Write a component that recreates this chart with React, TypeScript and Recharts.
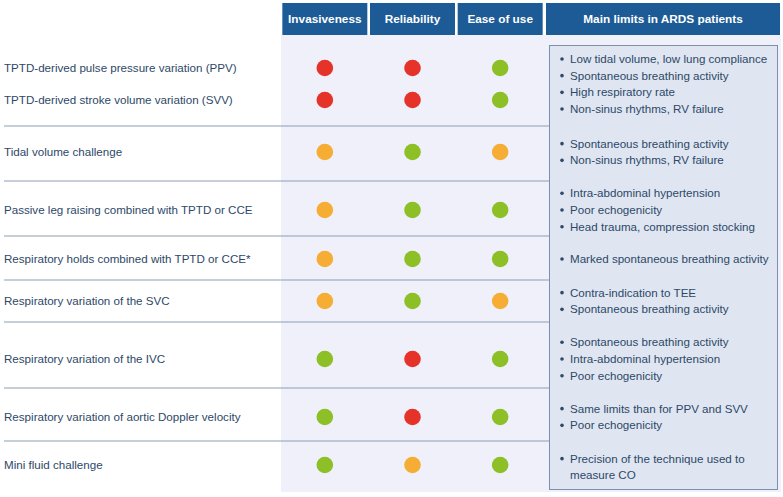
import React from 'react';
import { ScatterChart, Scatter, XAxis, YAxis, Customized } from 'recharts';

// rows of the table
const methods = [
  'TPTD-derived pulse pressure variation (PPV)',
  'TPTD-derived stroke volume variation (SVV)',
  'Tidal volume challenge',
  'Passive leg raising combined with TPTD or CCE',
  'Respiratory holds combined with TPTD or CCE*',
  'Respiratory variation of the SVC',
  'Respiratory variation of the IVC',
  'Respiratory variation of aortic Doppler velocity',
  'Mini fluid challenge',
];

const criteria = ['Invasiveness', 'Reliability', 'Ease of use'];

// 0 = unfavourable (red), 1 = intermediate (orange), 2 = favourable (green)
const invasiveness = [0, 0, 1, 1, 1, 1, 2, 2, 2];
const reliability = [0, 0, 2, 2, 2, 2, 0, 0, 1];
const easeOfUse = [2, 2, 1, 2, 2, 1, 2, 2, 2];

const limitsTitle = 'Main limits in ARDS patients';
// PPV and SVV share the first group
const limitGroups = [
  ['Low tidal volume, low lung compliance', 'Spontaneous breathing activity', 'High respiratory rate', 'Non-sinus rhythms, RV failure'],
  ['Spontaneous breathing activity', 'Non-sinus rhythms, RV failure'],
  ['Intra-abdominal hypertension', 'Poor echogenicity', 'Head trauma, compression stocking'],
  ['Marked spontaneous breathing activity'],
  ['Contra-indication to TEE', 'Spontaneous breathing activity'],
  ['Spontaneous breathing activity', 'Intra-abdominal hypertension', 'Poor echogenicity'],
  ['Same limits than for PPV and SVV', 'Poor echogenicity'],
  ['Precision of the technique used to\nmeasure CO'],
];

// layout (vertical positions in axis units = px)
const rowY = [68, 100, 152, 210, 259, 301, 359, 417, 465];
const groupY = [84, 152, 210, 259, 301, 359, 417, 467];
const separators = [126, 181, 236, 280, 322, 388, 441];
const LINE_GAP = 16.7;

const W = 783;
const H = 497;
const HEAD_TOP = 3;
const HEAD_BOTTOM = 35;
const LEFT_W = 281;
const COLS_W = 263;

const FONT = '"Liberation Sans", Arial, Helvetica, sans-serif';
const TEXT = '#2d4868';
const HEAD_BG = '#1c5b95';
const PANEL = '#eff0fa';
const BOX_FILL = '#dfe6f1';
const BOX_STROKE = '#7d90ab';
const RULE = '#8d9db4';
const DOT = ['#e5332a', '#f6ad33', '#8dbf26'];

const series = [invasiveness, reliability, easeOfUse].map((levels, c) =>
  levels.map((level, r) => ({ col: c, y: rowY[r], level, method: methods[r] }))
);

type LimitLine = { y: number; text: string; bullet: boolean };
const limitLines: LimitLine[] = [];
limitGroups.forEach((group, g) => {
  const lines: { text: string; bullet: boolean }[] = [];
  group.forEach((item) => item.split('\n').forEach((t, i) => lines.push({ text: t, bullet: i === 0 })));
  lines.forEach((l, i) => {
    limitLines.push({ y: groupY[g] + (i - (lines.length - 1) / 2) * LINE_GAP, ...l });
  });
});

const HeaderTick = (props: any) => {
  const { x, payload } = props;
  return (
    <g>
      <rect x={x - 42.5} y={HEAD_TOP} width={85} height={HEAD_BOTTOM - HEAD_TOP} fill={HEAD_BG} />
      <text x={x} y={(HEAD_TOP + HEAD_BOTTOM) / 2} dy="0.35em" textAnchor="middle" fill="#fff"
        fontFamily={FONT} fontSize={11.8} fontWeight="bold">
        {criteria[payload.value]}
      </text>
    </g>
  );
};

const RowTick = (props: any) => {
  const { y, payload } = props;
  const idx = rowY.indexOf(payload.value);
  return (
    <text x={4} y={y} dy="0.35em" textAnchor="start" fill={TEXT} fontFamily={FONT} fontSize={11.6}>
      {methods[idx]}
    </text>
  );
};

const Background = () => (
  <g>
    <rect x={LEFT_W} y={HEAD_BOTTOM} width={500} height={457} fill={PANEL} />
    {separators.map((s) => (
      <line key={s} x1={4} x2={549} y1={s} y2={s} stroke={RULE} strokeWidth={1} />
    ))}
    <rect x={549.5} y={45.5} width={228} height={444} fill={BOX_FILL} stroke={BOX_STROKE} strokeWidth={1} />
    <rect x={546} y={HEAD_TOP} width={234} height={HEAD_BOTTOM - HEAD_TOP} fill={HEAD_BG} />
    <text x={663} y={(HEAD_TOP + HEAD_BOTTOM) / 2} dy="0.35em" textAnchor="middle" fill="#fff"
      fontFamily={FONT} fontSize={11.8} fontWeight="bold">
      {limitsTitle}
    </text>
  </g>
);

const Limits = () => (
  <g fontFamily={FONT} fontSize={11.6} fill={TEXT}>
    {limitLines.map((l, i) => (
      <g key={i}>
        {l.bullet && <circle cx={562} cy={l.y} r={1.8} fill={TEXT} />}
        <text x={570} y={l.y} dy="0.35em" textAnchor="start" fill={TEXT}>{l.text}</text>
      </g>
    ))}
  </g>
);

const Dot = (props: any) => (
  <circle cx={props.cx} cy={props.cy} r={8.3} fill={DOT[props.payload.level]} />
);

export default function App() {
  return (
    <div style={{ position: 'absolute', left: 0, top: 0, width: W, height: H, background: '#fff' }}>
      <ScatterChart width={W} height={H} margin={{ top: HEAD_TOP, right: W - LEFT_W - COLS_W, bottom: 0, left: 0 }}>
        <Customized component={<Background />} />
        <XAxis
          type="number"
          dataKey="col"
          orientation="top"
          domain={[-0.5, 2.5]}
          ticks={[0, 1, 2]}
          height={HEAD_BOTTOM - HEAD_TOP}
          axisLine={false}
          tickLine={false}
          tick={<HeaderTick />}
          interval={0}
        />
        <YAxis
          yAxisId="rows"
          type="number"
          dataKey="y"
          domain={[HEAD_BOTTOM, H]}
          reversed
          ticks={rowY}
          width={LEFT_W}
          axisLine={false}
          tickLine={false}
          tick={<RowTick />}
          interval={0}
        />
        {series.map((data, c) => (
          <Scatter
            key={criteria[c]}
            name={criteria[c]}
            yAxisId="rows"
            data={data}
            shape={<Dot />}
            isAnimationActive={false}
          />
        ))}
        <Customized component={<Limits />} />
      </ScatterChart>
    </div>
  );
}
